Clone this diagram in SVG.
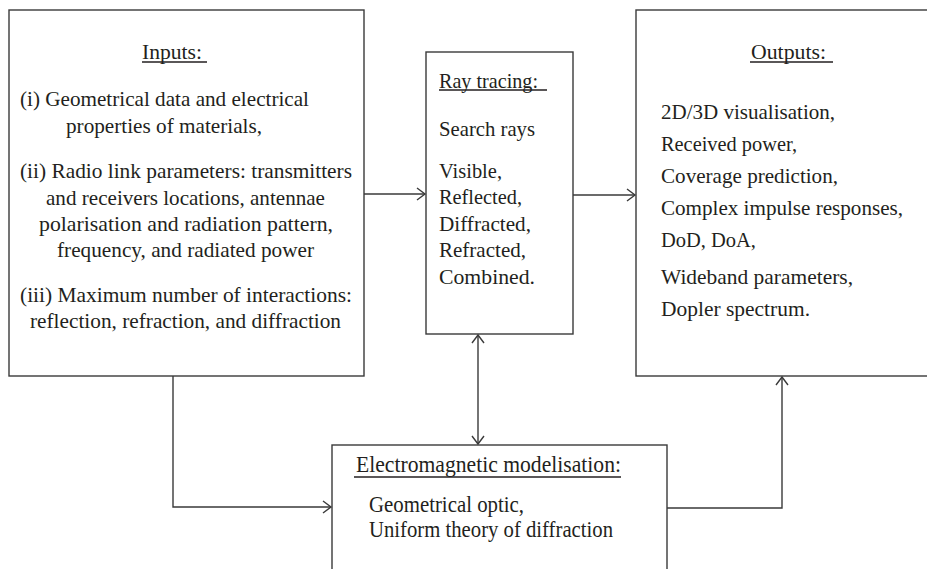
<svg xmlns="http://www.w3.org/2000/svg" width="927" height="569" viewBox="0 0 927 569">
<style>
  .box { fill: #ffffff; stroke: #3a3a3a; stroke-width: 1.4; }
  .t { font-family: "Liberation Serif", "Times New Roman", serif; font-size: 21px; fill: #231f20; }
  .em { font-family: "Liberation Serif", "Times New Roman", serif; font-size: 24px; fill: #231f20; }
  .ul { stroke: #231f20; stroke-width: 1.4; }
  .conn { fill: none; stroke: #3a3a3a; stroke-width: 1.4; }
</style>
<defs>
  <marker id="arr" markerUnits="userSpaceOnUse" markerWidth="12" markerHeight="16" refX="9" refY="7" orient="auto-start-reverse" viewBox="0 0 12 16">
    <path d="M1,1 L9,7 L1,13" fill="none" stroke="#3a3a3a" stroke-width="1.4"/>
  </marker>
</defs>
<rect width="927" height="569" fill="#ffffff"/>

<g id="inputs">
  <rect class="box" x="9" y="10" width="355" height="366"/>
  <text class="t" x="142" y="59" textLength="60" lengthAdjust="spacingAndGlyphs">Inputs:</text>
  <line class="ul" x1="142" y1="62" x2="207" y2="62"/>
  <text class="t" x="20" y="106" textLength="289" lengthAdjust="spacingAndGlyphs">(i) Geometrical data and electrical</text>
  <text class="t" x="66" y="133" textLength="196" lengthAdjust="spacingAndGlyphs">properties of materials,</text>
  <text class="t" x="20" y="178" textLength="332" lengthAdjust="spacingAndGlyphs">(ii) Radio link parameters: transmitters</text>
  <text class="t" x="46" y="205" textLength="279" lengthAdjust="spacingAndGlyphs">and receivers locations, antennae</text>
  <text class="t" x="39" y="231" textLength="294" lengthAdjust="spacingAndGlyphs">polarisation and radiation pattern,</text>
  <text class="t" x="57" y="257" textLength="257" lengthAdjust="spacingAndGlyphs">frequency, and radiated power</text>
  <text class="t" x="20" y="302" textLength="332" lengthAdjust="spacingAndGlyphs">(iii) Maximum number of interactions:</text>
  <text class="t" x="30" y="328" textLength="311" lengthAdjust="spacingAndGlyphs">reflection, refraction, and diffraction</text>
</g>

<g id="raytracing">
  <rect class="box" x="426" y="52" width="147" height="282"/>
  <text class="t" x="439" y="88" textLength="99" lengthAdjust="spacingAndGlyphs">Ray tracing:</text>
  <line class="ul" x1="439" y1="90" x2="547" y2="90"/>
  <text class="t" x="439" y="136" textLength="96" lengthAdjust="spacingAndGlyphs">Search rays</text>
  <text class="t" x="439" y="178" textLength="63" lengthAdjust="spacingAndGlyphs">Visible,</text>
  <text class="t" x="439" y="204" textLength="83" lengthAdjust="spacingAndGlyphs">Reflected,</text>
  <text class="t" x="439" y="231" textLength="92" lengthAdjust="spacingAndGlyphs">Diffracted,</text>
  <text class="t" x="439" y="257" textLength="87" lengthAdjust="spacingAndGlyphs">Refracted,</text>
  <text class="t" x="439" y="284" textLength="96" lengthAdjust="spacingAndGlyphs">Combined.</text>
</g>

<g id="outputs">
  <rect class="box" x="636" y="10" width="300" height="366"/>
  <text class="t" x="751" y="59" textLength="75" lengthAdjust="spacingAndGlyphs">Outputs:</text>
  <line class="ul" x1="750" y1="62" x2="833" y2="62"/>
  <text class="t" x="661" y="119" textLength="174" lengthAdjust="spacingAndGlyphs">2D/3D visualisation,</text>
  <text class="t" x="661" y="151" textLength="136" lengthAdjust="spacingAndGlyphs">Received power,</text>
  <text class="t" x="661" y="183" textLength="177" lengthAdjust="spacingAndGlyphs">Coverage prediction,</text>
  <text class="t" x="661" y="215" textLength="242" lengthAdjust="spacingAndGlyphs">Complex impulse responses,</text>
  <text class="t" x="661" y="247" textLength="95" lengthAdjust="spacingAndGlyphs">DoD, DoA,</text>
  <text class="t" x="661" y="284" textLength="192" lengthAdjust="spacingAndGlyphs">Wideband parameters,</text>
  <text class="t" x="661" y="316" textLength="149" lengthAdjust="spacingAndGlyphs">Dopler spectrum.</text>
</g>

<g id="em">
  <rect class="box" x="332" y="445" width="335" height="140"/>
  <text class="em" x="356" y="472" textLength="265" lengthAdjust="spacingAndGlyphs">Electromagnetic modelisation:</text>
  <line class="ul" x1="354" y1="477" x2="621" y2="477"/>
  <text class="em" x="369" y="512" textLength="155" lengthAdjust="spacingAndGlyphs">Geometrical optic,</text>
  <text class="em" x="369" y="537" textLength="244" lengthAdjust="spacingAndGlyphs">Uniform theory of diffraction</text>
</g>

<g id="connectors">
  <path class="conn" d="M364,194 L425,194" marker-end="url(#arr)"/>
  <path class="conn" d="M573,195 L635,195" marker-end="url(#arr)"/>
  <path class="conn" d="M478,335 L478,444" marker-start="url(#arr)" marker-end="url(#arr)"/>
  <path class="conn" d="M173,376 L173,507 L331,507" marker-end="url(#arr)"/>
  <path class="conn" d="M667,508 L782,508 L782,377" marker-end="url(#arr)"/>
</g>
</svg>
